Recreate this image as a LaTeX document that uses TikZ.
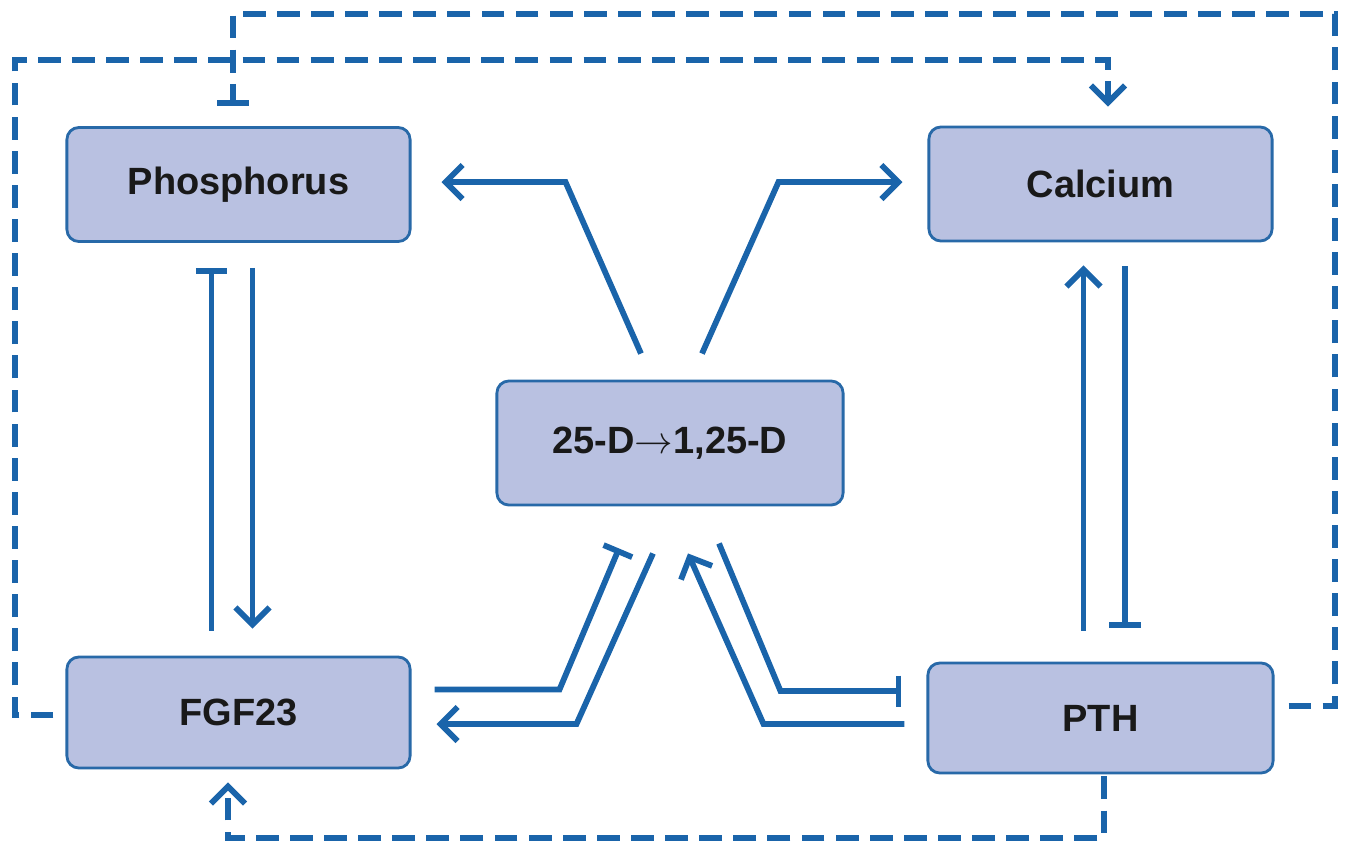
\documentclass[tikz,border=0pt]{standalone}
\usepackage{fontspec}
\setmainfont{Liberation Sans}
\usetikzlibrary{arrows.meta,calc}
\definecolor{boxfill}{RGB}{185,193,225}
\definecolor{boxedge}{RGB}{40,105,168}
\definecolor{linec}{RGB}{26,100,170}
\definecolor{textc}{RGB}{25,25,25}
\begin{document}
\begin{tikzpicture}[x=0.01cm,y=-0.01cm,
  box/.style={draw=boxedge,fill=boxfill,line width=0.8pt,rounded corners=0.12cm,
    minimum width=3.43cm,minimum height=1.14cm,inner sep=0pt,text=textc,
    font=\fontsize{10.8}{12}\selectfont\bfseries},
  conn/.style={draw=linec,line width=1.65pt},
  arr/.style={conn,-{Straight Barb[length=0.17cm,width=0.34cm]}},
  inh/.style={conn,-{Bar[width=0.31cm]}},
  dashes/.style={dash pattern=on 6.5pt off 3.2pt},
  darr/.style={arr,dashes},
  dinh/.style={inh,dashes}]
\useasboundingbox (0,0) rectangle (1347,844);
\node[box] (phos) at (238.5,184.5) {Phosphorus};
\node[box] (calc) at (1100.5,184) {Calcium};
\node[box,minimum height=1.11cm] (fgf) at (238.5,712.5) {FGF23};
\node[box,minimum width=3.45cm,minimum height=1.10cm] (pth) at (1100.5,718) {PTH};
\node[box,minimum width=3.46cm,minimum height=1.24cm] (vitd) at (670,443) {25-D$\rightarrow$1,25-D};
% Phosphorus <-> FGF23
\draw[inh] ($(fgf.north)+(-27,-25)$) -- ($(phos.south)+(-27,25)$);
\draw[arr] ($(phos.south)+(14,25)$) -- ($(fgf.north)+(14,-27)$);
% PTH <-> Calcium
\draw[arr] ($(pth.north)+(-17,-31)$) -- ($(calc.south)+(-17,23)$);
\draw[inh] ($(calc.south)+(24.5,24)$) -- ($(pth.north)+(24.5,-34)$);
% vitamin D -> Phosphorus, Calcium
\draw[arr] ($(vitd.north)+(-29,-26)$) -- ($(phos.east)+(154,-2.5)$) -- ($(phos.east)+(30,-2.5)$);
\draw[arr] ($(vitd.north)+(32,-26)$) -- ($(calc.west)+(-149,-2)$) -- ($(calc.west)+(-25,-2)$);
% FGF23 <-> vitamin D
\draw[inh] ($(fgf.east)+(23,-23)$) -- ($(fgf.east)+(148,-23)$) -- ($(vitd.south)+(-51,42)$);
\draw[arr] ($(vitd.south)+(-17,47)$) -- ($(fgf.east)+(165,11.5)$) -- ($(fgf.east)+(25,11.5)$);
% PTH <-> vitamin D
\draw[arr] ($(pth.west)+(-22,6)$) -- ($(pth.west)+(-163,6)$) -- ($(vitd.south)+(18,47)$);
\draw[inh] ($(vitd.south)+(49,37)$) -- ($(pth.west)+(-146,-27)$) -- ($(pth.west)+(-25,-27)$);
% dashed loops
\draw[dinh] ($(pth.east)+(14,-12)$) -| (1335,14) -| ($(phos.north)+(-5.5,-20)$);
\draw[darr] ($(fgf.west)+(-12,2.5)$) -| (15,60) -| ($(calc.north)+(7.5,-19)$);
\draw[darr] ($(pth.south)+(3.5,2)$) |- (228,838) -- ($(fgf.south)+(-10.5,13)$);
\end{tikzpicture}
\end{document}
